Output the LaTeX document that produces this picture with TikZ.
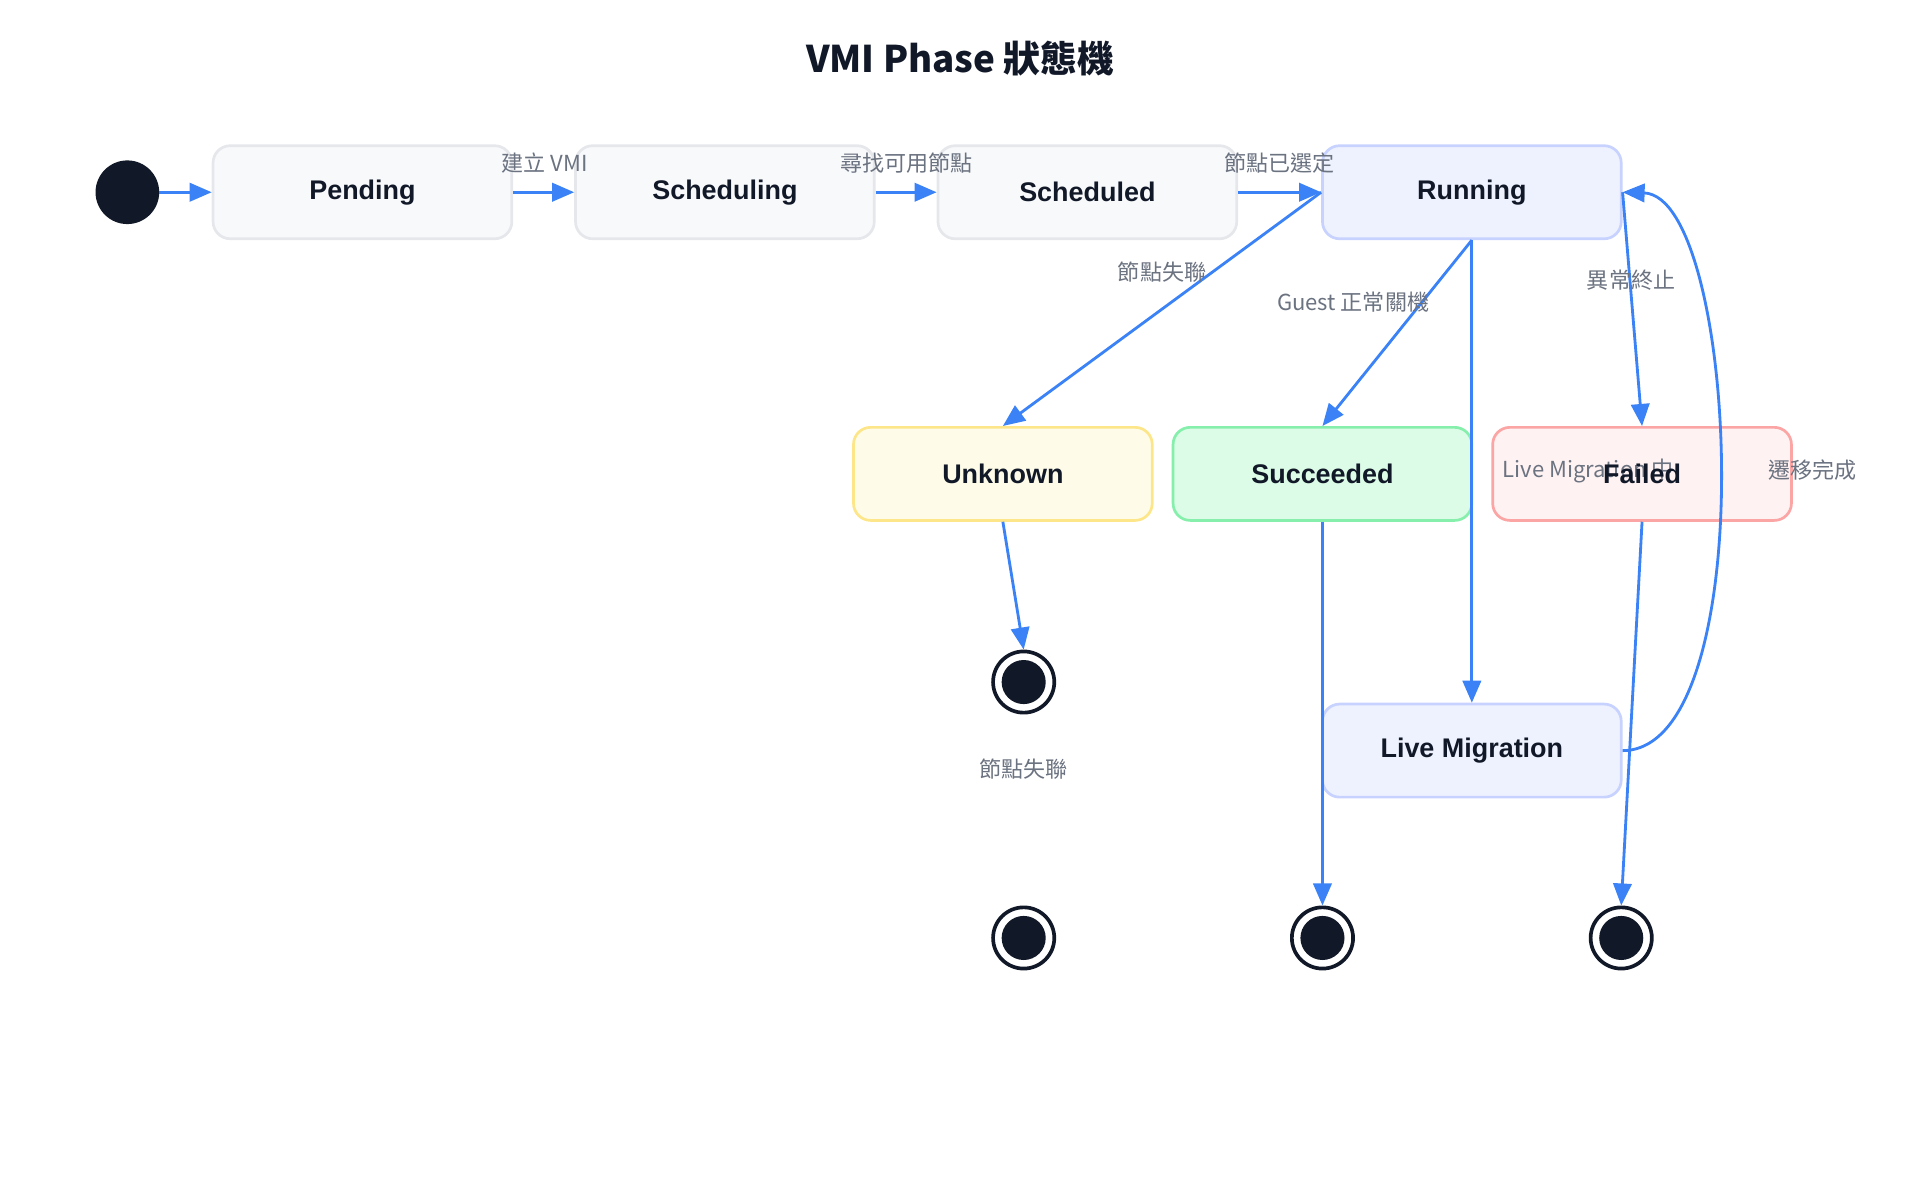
\documentclass[tikz,border=0pt]{standalone}
\usepackage{fontspec}
\setmainfont{Noto Sans CJK TC}
\newfontfamily\lat{Liberation Sans}
\usetikzlibrary{arrows.meta}
\definecolor{ink}{HTML}{111827}
\definecolor{lab}{HTML}{6B7280}
\definecolor{arr}{HTML}{3B82F6}
\definecolor{gS}{HTML}{E5E7EB}\definecolor{gF}{HTML}{F8F9FB}
\definecolor{bS}{HTML}{C7D2FE}\definecolor{bF}{HTML}{EEF2FF}
\definecolor{yS}{HTML}{FDE68A}\definecolor{yF}{HTML}{FEFCE8}
\definecolor{nS}{HTML}{86EFAC}\definecolor{nF}{HTML}{DCFCE7}
\definecolor{rS}{HTML}{FCA5A5}\definecolor{rF}{HTML}{FEF2F2}
\begin{document}
\begin{tikzpicture}[x=1pt,y=-1pt,
 st/.style 2 args={draw=#1,fill=#2,line width=2.2pt,rounded corners=14pt,minimum width=244pt,minimum height=76pt,font=\lat\fontsize{22}{26}\selectfont\bfseries,text=ink},
 e/.style={draw=arr,line width=2.3pt,-{Triangle[length=18pt,width=15pt]}},
 lb/.style={font=\fontsize{18}{22}\selectfont,text=lab},
 fin/.style={circle,draw=ink,line width=3pt,fill=white,minimum size=50pt,inner sep=0pt,path picture={\fill[ink] (path picture bounding box.center) circle (18pt);}}]
\useasboundingbox (0,0) rectangle (1568,976);
\node[font=\fontsize{30}{34}\selectfont\bfseries,text=ink] (title) at (784,48) {VMI Phase 狀態機};
\node[circle,fill=ink,minimum size=52pt,inner sep=0pt] (init) at (104,157) {};
\node[st={gS}{gF}] (pend) at (296,157) {Pending};
\node[st={gS}{gF}] (sching) at (592,157) {Scheduling};
\node[st={gS}{gF}] (sched) at (888,157) {Scheduled};
\node[st={bS}{bF}] (run) at (1202,157) {Running};
\node[st={yS}{yF}] (unk) at (819,387) {Unknown};
\node[st={nS}{nF}] (succ) at (1080,387) {Succeeded};
\node[st={rS}{rF}] (fail) at (1341,387) {\phantom{Failed}};
\node[st={bS}{bF}] (lm) at (1202,613) {Live Migration};
\node[fin] (f1) at (836,557) {};
\node[fin] (f2) at (836,766) {};
\node[fin] (f3) at (1080,766) {};
\node[fin] (f4) at (1324,766) {};
\draw[e] (init) -- (pend);
\draw[e] (pend) -- (sching);
\draw[e] (sching) -- (sched);
\draw[e] (sched) -- (run);
\draw[e] (run.west) -- (unk.north);
\draw[e] (run.south) -- (succ.north);
\draw[e] (run.east) -- (fail.north);
\draw[e] (run.south) -- (lm.north);
\draw[e] (lm.east) .. controls (1440,613) and (1420,160) .. (run.east);
\draw[e] (unk.south) -- (f1.north);
\draw[e] (succ.south) -- (f3.north);
\draw[e] (fail.south) -- (f4.north);
\node[lb] (l1) at (445,133) {建立 VMI};
\node[lb] (l2) at (740,133) {尋找可用節點};
\node[lb] (l3) at (1045,133) {節點已選定};
\node[lb] (l4) at (949,222) {節點失聯};
\node[lb] (l5) at (1105,247) {Guest 正常關機};
\node[lb] (l6) at (1332,229) {異常終止};
\node[lb] (l7) at (1297,385) {Live Migration 中};
\node[lb] (l8) at (1480,384) {遷移完成};
\node[lb] (l9) at (836,628) {節點失聯};
\node[font=\lat\fontsize{22}{26}\selectfont\bfseries,text=ink] (failtxt) at (1341,387) {Failed};
\end{tikzpicture}
\end{document}
